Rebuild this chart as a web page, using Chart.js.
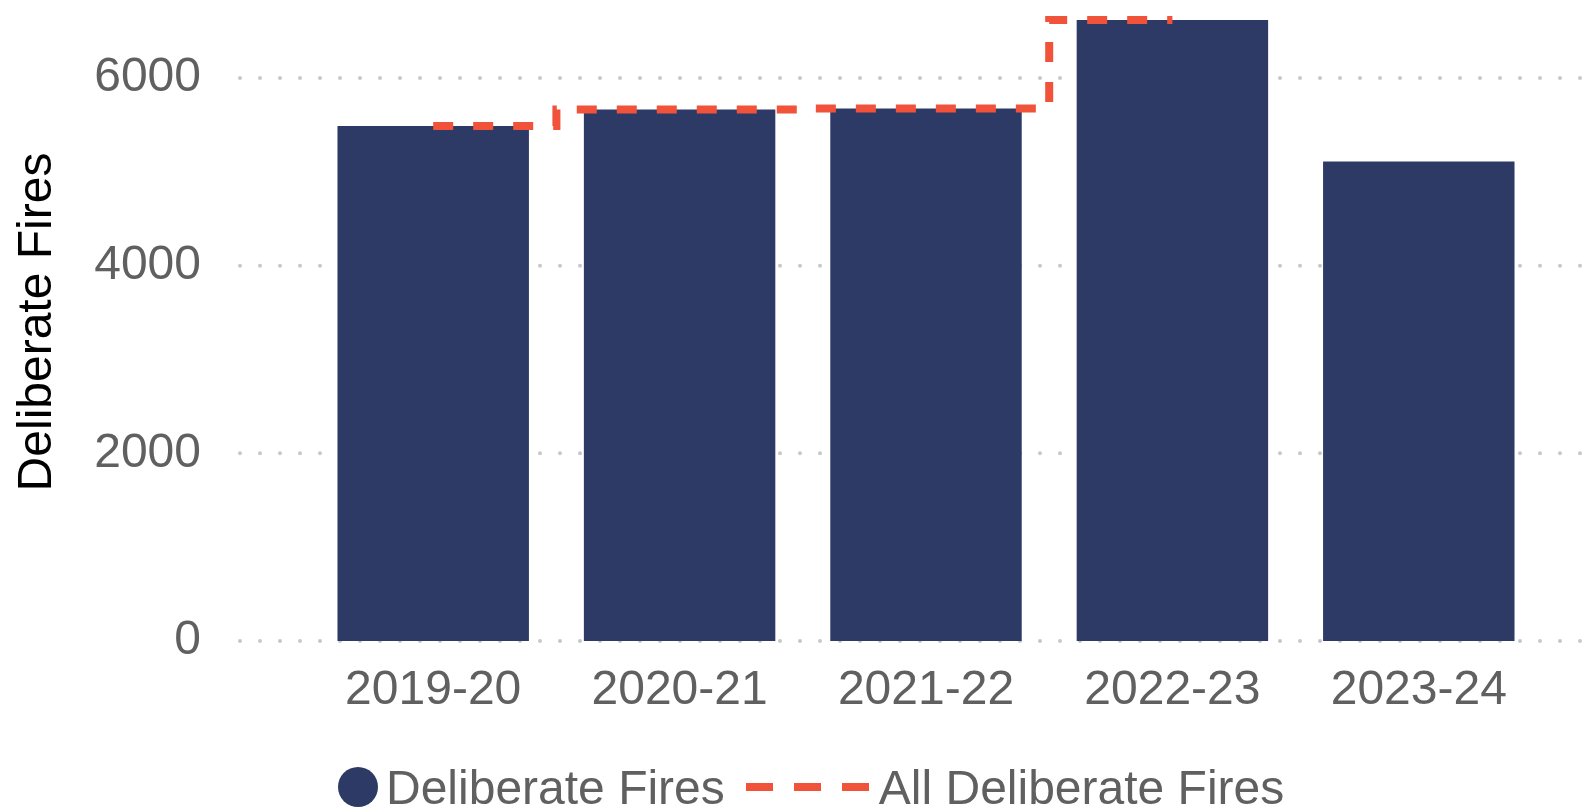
<!DOCTYPE html>
<html>
<head>
<meta charset="utf-8">
<title>Deliberate Fires</title>
<script src="https://cdn.jsdelivr.net/npm/chart.js@4/dist/chart.umd.min.js"></script>
<style>
  body { margin: 0; background: #fff; }
  #wrap { position: relative; width: 1596px; height: 812px; overflow: hidden; }
  #legend {
    position: absolute; left: 338px; top: 758px; height: 58px;
    display: flex; align-items: center;
    font-family: "Liberation Sans", Arial, sans-serif; font-size: 48px; color: #606060;
    white-space: nowrap;
  }
  .dot { width: 40px; height: 40px; border-radius: 50%; margin-right: 8px; }
  .dash { margin-left: 21px; margin-right: 10px; }
</style>
</head>
<body>
<div id="wrap">
  <canvas id="fires"></canvas>
  <div id="legend"></div>
</div>
<script>
// values
const seasons = ['2019-20', '2020-21', '2021-22', '2022-23', '2023-24'];
const deliberateFires = [5490, 5665, 5675, 6620, 5110];
const allDeliberateFires = [5490, 5665, 5675, 6620, null];
const yTickValues = [0, 2000, 4000, 6000];

const barColour = '#2e3a66';
const lineColour = '#f0523a';

Chart.defaults.font.family = '"Liberation Sans", Arial, sans-serif';
Chart.defaults.font.size = 48;

// dotted grid lines that run a bit past the plot area, like the original
const dottedGrid = {
    id: 'dottedGrid',
    beforeDatasetsDraw(chart) {
        const { ctx, chartArea, scales } = chart;
        ctx.save();
        ctx.strokeStyle = '#c8c8c8';
        ctx.lineWidth = 4;
        ctx.lineCap = 'round';
        ctx.setLineDash([0, 20]);
        yTickValues.forEach(v => {
            const y = scales.y.getPixelForValue(v);
            ctx.beginPath();
            ctx.moveTo(chartArea.left - 70, y);
            ctx.lineTo(chartArea.right + 40, y);
            ctx.stroke();
        });
        ctx.restore();
    }
};

const ctx = document.getElementById('fires');
const firesChart = new Chart(ctx, {
    type: 'bar',
    data: {
        labels: seasons,
        datasets: [{
            type: 'line',
            label: 'All Deliberate Fires',
            data: allDeliberateFires,
            borderColor: lineColour,
            backgroundColor: lineColour,
            borderWidth: 8,
            borderDash: [20, 20],
            stepped: 'middle',
            pointRadius: 0,
            fill: false,
            order: 0
        }, {
            label: 'Deliberate Fires',
            data: deliberateFires,
            backgroundColor: barColour,
            categoryPercentage: 1,
            barPercentage: 0.777,
            order: 1
        }]
    },
    options: {
        responsive: true,
        maintainAspectRatio: false,
        animation: false,
        layout: {
            padding: { left: 5, right: 54, top: 3, bottom: 95 }
        },
        scales: {
            x: {
                grid: { display: false, drawTicks: false },
                border: { display: false },
                ticks: { color: '#606060', padding: 21 },
                afterFit: scale => {
                    scale.height = 76;
                }
            },
            y: {
                min: 0,
                max: 6800,
                afterBuildTicks: scale => {
                    scale.ticks = yTickValues.map(v => ({ value: v }));
                },
                afterFit: scale => {
                    scale.width = 305;
                    scale.paddingTop = 0;
                    scale.paddingBottom = 0;
                },
                grid: { display: false, drawTicks: false },
                border: { display: false },
                ticks: {
                    color: '#606060',
                    padding: 109,
                    callback: value => String(value)
                },
                title: {
                    display: true,
                    text: 'Deliberate Fires',
                    color: '#000000',
                    padding: { top: 4, bottom: 25 }
                }
            }
        },
        plugins: {
            legend: { display: false },
            tooltip: { enabled: false }
        }
    },
    plugins: [dottedGrid]
});

// legend as html, bar item first then the dashed line
const legendBox = document.getElementById('legend');
[firesChart.data.datasets[1], firesChart.data.datasets[0]].forEach(ds => {
    if (ds.type === 'line') {
        const svg = document.createElementNS('http://www.w3.org/2000/svg', 'svg');
        svg.setAttribute('width', '123');
        svg.setAttribute('height', '10');
        svg.setAttribute('class', 'dash');
        const ln = document.createElementNS('http://www.w3.org/2000/svg', 'line');
        ln.setAttribute('x1', '0'); ln.setAttribute('x2', '123');
        ln.setAttribute('y1', '5'); ln.setAttribute('y2', '5');
        ln.setAttribute('stroke', ds.borderColor);
        ln.setAttribute('stroke-width', '8');
        ln.setAttribute('stroke-dasharray', '27 21');
        svg.appendChild(ln);
        legendBox.appendChild(svg);
    } else {
        const dot = document.createElement('span');
        dot.className = 'dot';
        dot.style.background = ds.backgroundColor;
        legendBox.appendChild(dot);
    }
    const txt = document.createElement('span');
    txt.textContent = ds.label;
    legendBox.appendChild(txt);
});
</script>
</body>
</html>
